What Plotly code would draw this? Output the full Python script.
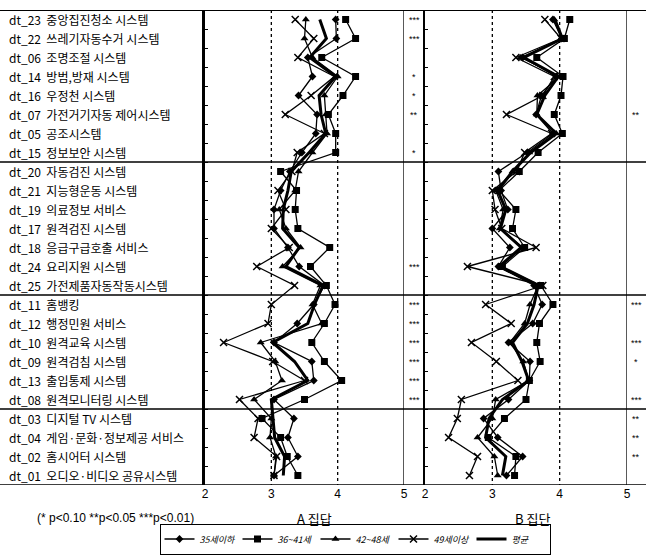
import plotly.graph_objects as go

# ---------------- data ----------------
item_labels = [
    "dt_23  중앙집진청소 시스템", "dt_22  쓰레기자동수거 시스템", "dt_06  조명조절 시스템",
    "dt_14  방범,방재 시스템", "dt_16  우정천 시스템", "dt_07  가전거기자동 제어시스템",
    "dt_05  공조시스템", "dt_15  정보보안 시스템",
    "dt_20  자동검진 시스템", "dt_21  지능형운동 시스템", "dt_19  의료정보 서비스",
    "dt_17  원격검진 시스템", "dt_18  응급구급호출 서비스", "dt_24  요리지원 시스템",
    "dt_25  가전제품자동작동시스템",
    "dt_11  홈뱅킹", "dt_12  행정민원 서비스", "dt_10  원격교육 시스템",
    "dt_09  원격검침 시스템", "dt_13  출입통제 시스템", "dt_08  원격모니터링 시스템",
    "dt_03  디지털 TV 시스템", "dt_04  게임·문화·정보제공 서비스", "dt_02  홈시어터 시스템",
    "dt_01  오디오·비디오 공유시스템",
]
series_names = ["35세이하", "36~41세", "42~48세", "49세이상", "평균"]

# Group A values (rows top -> bottom)
a_35 = [3.97, 3.98, 3.55, 3.62, 3.41, 3.69, 3.67, 3.46, 3.28, 3.14, 3.04, 3.04, 3.25,
        3.42, 3.80, 3.64, 3.39, 3.04, 3.61, 3.64, 3.04, 3.34, 3.25, 3.40, 3.04]
a_36 = [4.12, 4.27, 3.76, 4.27, 4.08, 3.86, 3.97, 3.97, 3.14, 3.38, 3.36, 3.40, 3.88,
        3.59, 3.83, 3.96, 3.80, 3.61, 3.80, 4.06, 3.50, 2.86, 3.14, 3.24, 3.40]
a_42 = [3.52, 3.50, 3.62, 4.00, 3.80, 3.82, 3.84, 3.62, 3.41, 3.36, 3.12, 3.22, 3.44,
        3.17, 3.74, 3.62, 3.76, 2.84, 3.06, 3.16, 2.74, 3.00, 2.98, 3.07, 3.04]
a_49 = [3.36, 3.64, 3.40, 3.95, 3.60, 3.21, 3.80, 3.39, 3.31, 3.10, 3.22, 3.00, 3.27,
        2.78, 3.35, 3.00, 2.95, 2.28, 3.02, 3.50, 2.52, 2.80, 2.74, 3.08, 3.04]
a_avg = [3.73, 3.83, 3.58, 3.97, 3.72, 3.75, 3.82, 3.57, 3.30, 3.25, 3.18, 3.17, 3.42,
         3.22, 3.78, 3.65, 3.55, 3.02, 3.35, 3.55, 3.00, 3.02, 3.05, 3.20, 3.18]

# Group B values
b_35 = [3.90, 4.03, 3.45, 3.95, 3.73, 3.65, 3.90, 3.52, 3.09, 3.13, 3.23, 3.00, 3.26,
        3.09, 3.62, 3.74, 3.60, 3.24, 3.56, 3.55, 3.24, 2.87, 3.08, 3.45, 3.21]
b_36 = [4.15, 4.07, 3.66, 4.05, 4.02, 3.92, 4.04, 3.68, 3.40, 3.10, 3.35, 3.30, 3.48,
        3.15, 3.72, 3.90, 3.70, 3.66, 3.71, 3.55, 3.50, 3.18, 2.94, 3.35, 3.33]
b_42 = [3.92, 4.05, 3.42, 4.00, 3.67, 3.66, 3.95, 3.55, 3.30, 3.05, 3.16, 3.11, 3.45,
        3.12, 3.68, 3.56, 3.48, 3.26, 3.46, 3.54, 3.05, 3.00, 2.78, 3.03, 3.08]
b_49 = [3.78, 4.02, 3.35, 3.92, 3.75, 3.21, 3.88, 3.48, 3.36, 3.00, 3.04, 3.14, 3.65,
        2.63, 3.75, 2.90, 3.28, 2.69, 3.06, 3.38, 2.54, 2.48, 2.35, 2.78, 2.66]
b_avg = [3.93, 4.04, 3.47, 3.98, 3.78, 3.66, 3.95, 3.57, 3.30, 3.08, 3.20, 3.12, 3.43,
         3.10, 3.68, 3.62, 3.52, 3.30, 3.44, 3.54, 3.15, 2.95, 2.90, 3.20, 3.15]

# significance marks
sig_a = ["***", "***", "", "*", "*", "**", "", "*", "", "", "", "", "", "***", "",
         "***", "***", "***", "***", "***", "***", "", "", "", ""]
sig_b = ["", "", "", "", "", "**", "", "", "", "", "", "", "", "", "",
         "***", "", "***", "*", "", "***", "**", "**", "**", ""]

x_ticks = [2, 3, 4, 5]
group_breaks = [7.5, 14.5, 20.5]
footnote = "(* p<0.10 **p<0.05 ***p<0.01)"
panel_titles = ["A 집답", "B 집단"]

# ---------------- figure ----------------
W, H = 646, 555
TOP, BOT = 10, 485
n = len(item_labels)
rows = list(range(n))

def px_x(p):
    return p / W

def px_y(p):
    return (BOT - p) / (BOT - TOP)

styles = [
    dict(mode="lines+markers", line=dict(color="black", width=1.3),
         marker=dict(symbol="diamond", size=6, color="black")),
    dict(mode="lines+markers", line=dict(color="black", width=1.3),
         marker=dict(symbol="square", size=7, color="black")),
    dict(mode="lines+markers", line=dict(color="black", width=1.3),
         marker=dict(symbol="triangle-up", size=7, color="black")),
    dict(mode="lines+markers", line=dict(color="black", width=1.3),
         marker=dict(symbol="x-thin", size=7, color="black",
                     line=dict(color="black", width=1.5))),
    dict(mode="lines", line=dict(color="black", width=3)),
]

fig = go.Figure()
a_series = [a_35, a_36, a_42, a_49, a_avg]
b_series = [b_35, b_36, b_42, b_49, b_avg]
for i, name in enumerate(series_names):
    fig.add_trace(go.Scatter(x=a_series[i], y=rows, name=name, legendgroup=name,
                             xaxis="x", yaxis="y", showlegend=True, **styles[i]))
for i, name in enumerate(series_names):
    fig.add_trace(go.Scatter(x=b_series[i], y=rows, name=name, legendgroup=name,
                             xaxis="x2", yaxis="y2", showlegend=False, **styles[i]))

domA = [px_x(205), px_x(404)]
domB = [px_x(425), px_x(627)]
ax_common = dict(range=[2, 5], tickvals=x_ticks, ticktext=[str(t) for t in x_ticks],
                 showgrid=False, zeroline=False, showline=False, ticks="",
                 tickfont=dict(family="Liberation Sans, Arial", size=12, color="black"))
y_common = dict(range=[n - 0.5, -0.5], showgrid=False, zeroline=False, showline=True,
                linecolor="black", ticks="inside", ticklen=3, tickcolor="black",
                tickvals=[r + 0.5 for r in range(n - 1)], showticklabels=False,
                domain=[0, 1])

fig.update_layout(
    width=W, height=H,
    margin=dict(l=0, r=0, t=TOP, b=H - BOT, autoexpand=False),
    paper_bgcolor="white", plot_bgcolor="white",
    xaxis=dict(domain=domA, anchor="y", **ax_common),
    xaxis2=dict(domain=domB, anchor="y2", **ax_common),
    yaxis=dict(anchor="x", linewidth=3, **y_common),
    yaxis2=dict(anchor="x2", linewidth=2, **y_common),
    showlegend=True,
    legend=dict(orientation="h", xref="container", yref="container",
                x=px_x(355), xanchor="center", y=(H - 539) / H, yanchor="middle",
                bordercolor="black", borderwidth=1, bgcolor="white",
                font=dict(family="Noto Sans CJK KR", size=9, color="black", style="italic"),
                entrywidth=33, entrywidthmode="pixels", itemwidth=30,
                tracegroupgap=0),
    font=dict(family="Noto Sans CJK KR", color="black"),
)

shapes = []
shapes.append(dict(type="line", xref="paper", yref="y", x0=0, x1=1, y0=-0.5, y1=-0.5,
                   line=dict(color="black", width=2)))
shapes.append(dict(type="line", xref="paper", yref="y", x0=0, x1=1, y0=n - 0.5, y1=n - 0.5,
                   line=dict(color="black", width=1.5)))
for gb in group_breaks:
    shapes.append(dict(type="line", xref="paper", yref="y", x0=0, x1=1, y0=gb, y1=gb,
                       line=dict(color="black", width=1.5)))
for xr in ["x", "x2"]:
    for v in [3, 4]:
        shapes.append(dict(type="line", xref=xr, yref="y", x0=v, x1=v, y0=-0.5, y1=n - 0.5,
                           line=dict(color="black", width=1.3, dash="dot")))
    shapes.append(dict(type="line", xref=xr, yref="y", x0=5, x1=5, y0=-0.5, y1=n - 0.5,
                       line=dict(color="black", width=1.3)))
fig.update_layout(shapes=shapes)

ann = []
for r, lab in enumerate(item_labels):
    ann.append(dict(xref="paper", yref="y", x=px_x(7), y=r, text=lab, showarrow=False,
                    xanchor="left", yanchor="middle",
                    font=dict(family="Noto Sans CJK KR", size=12, color="black")))
    if sig_a[r]:
        ann.append(dict(xref="paper", yref="y", x=px_x(414), y=r, text=sig_a[r], showarrow=False,
                        xanchor="center", yanchor="middle",
                        font=dict(family="Liberation Sans", size=9, color="black")))
    if sig_b[r]:
        ann.append(dict(xref="paper", yref="y", x=px_x(636), y=r, text=sig_b[r], showarrow=False,
                        xanchor="center", yanchor="middle",
                        font=dict(family="Liberation Sans", size=9, color="black")))
ann.append(dict(xref="paper", yref="paper", x=px_x(35), y=px_y(518), text=footnote,
                showarrow=False, xanchor="left", yanchor="middle",
                font=dict(family="Liberation Sans", size=12, color="black")))
ann.append(dict(xref="paper", yref="paper", x=px_x(314), y=px_y(518), text=panel_titles[0],
                showarrow=False, xanchor="center", yanchor="middle",
                font=dict(family="Noto Sans CJK KR", size=13, color="black")))
ann.append(dict(xref="paper", yref="paper", x=px_x(532), y=px_y(518), text=panel_titles[1],
                showarrow=False, xanchor="center", yanchor="middle",
                font=dict(family="Noto Sans CJK KR", size=13, color="black")))
fig.update_layout(annotations=ann)

fig.write_html("out.html", config={"displayModeBar": False},
               post_script="document.body.style.margin='0px';")
